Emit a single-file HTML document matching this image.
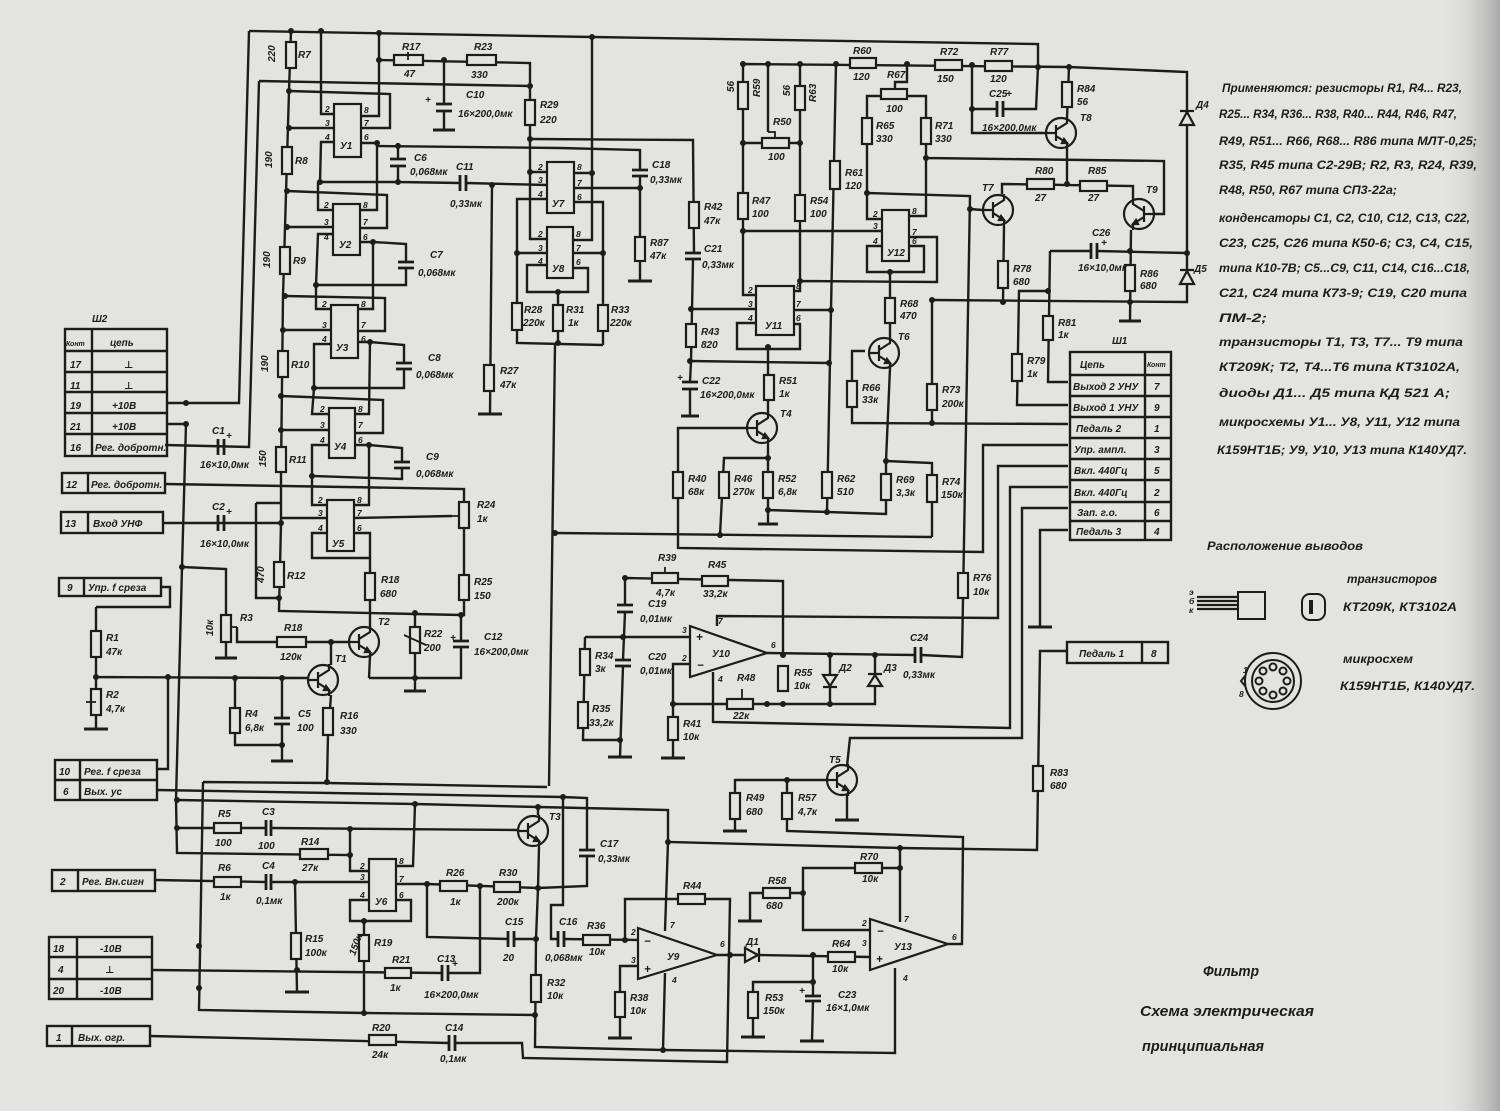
<!DOCTYPE html>
<html><head><meta charset="utf-8">
<style>
html,body{margin:0;padding:0;background:#e3e3e1;}
svg{display:block;}
text{font-family:"Liberation Sans","DejaVu Sans",sans-serif;font-style:italic;font-weight:bold;fill:#1c1c1c;stroke:none;}
.s{font-size:10px;}
.p{font-size:8.5px;}
.t{font-size:11.5px;}
.b{font-size:15px;font-weight:normal;}
</style></head>
<body>
<svg width="1500" height="1111" viewBox="0 0 1500 1111" xmlns="http://www.w3.org/2000/svg">
<defs>
<linearGradient id="edge" x1="0" x2="1" y1="0" y2="0">
<stop offset="0" stop-color="#e3e3e1" stop-opacity="0"/>
<stop offset="1" stop-color="#a9a9a7" stop-opacity="1"/>
</linearGradient>
<g id="tr"><circle cx="0" cy="0" r="15" fill="none"/><path d="M-16,0 L-5,0 M-5,-8 L-5,8 M-5,-3 L6,-10 L6,-16 M-5,3 L6,10 L6,16" fill="none"/><path d="M6,10 L1,10 L3,6 Z" fill="#1c1c1c"/></g>
</defs>
<rect width="1500" height="1111" fill="#e3e3e1"/>
<rect x="1440" y="0" width="60" height="1111" fill="url(#edge)"/>

<g stroke="#1c1c1c" stroke-width="2.4" fill="none" stroke-linejoin="miter">
<path d="M249,31 L592,37 L1038,44 L1038,67 M249,31 L239,403 L167,403 M186,424 L167,424 M259,81 L530,86 M259,81 L249,447 L165,445"/>
<path d="M291,31 L289,91 L283,296 L281,472 L281,523 L279,611 L461,615 M163,523 L281,523 M256,503 L281,503 M256,503 L256,598 L279,598"/>
<path d="M321,31 L321,114 L334,114 M289,128 L334,128 M334,142 L321,142 L320,182 L398,182 L460,183 M466,183 L547,185 M379,33 L379,116 L361,116 M361,128 L390,128 L390,94 L289,91 M361,143 L377,143 L377,210 L360,210 M377,146 L560,148 L640,150 L640,170 M640,176 L640,281 M398,143 L398,159 M398,166 L398,182"/>
<path d="M379,60 L530,63 L530,239 L547,239 M530,172 L547,172 M492,185 L490,414 M444,60 L444,104 M444,111 L444,130"/>
<path d="M530,139 L693,140 L694,253 M693,259 L691,361 L690,382 M690,389 L690,416 M592,37 L592,240 L573,240 M573,173 L592,173 M573,188 L640,188 M573,202 L603,202 L603,345 M573,253 L603,253 M573,268 L588,268 L588,292 L527,292 L527,265 L547,265 M547,199 L517,199 L517,343 L603,345 M517,253 L547,253 M558,292 L558,343 M555,345 L549,786"/>
<path d="M318,182 L318,210 L333,210 M287,227 L333,227 M333,234 L318,234 L316,285 L406,285 L406,268 M406,262 L406,244 L373,242 L360,242 M287,191 L387,195 L387,228 L360,228 M373,242 L373,309 L358,309"/>
<path d="M316,285 L316,309 L331,309 M283,330 L331,330 M331,344 L314,344 L314,388 L404,388 L404,369 M404,363 L404,345 L370,342 L358,342 M285,296 L385,298 L385,331 L358,331 M370,342 L369,414 L355,414"/>
<path d="M314,388 L312,414 L329,414 M281,430 L329,430 M329,445 L312,445 L312,476 L402,479 L402,468 M402,462 L402,448 L369,445 L355,445 M281,396 L383,400 L383,433 L355,433 M369,445 L369,505 L354,505"/>
<path d="M312,476 L312,505 L327,505 M281,518 L327,518 M327,533 L312,533 L312,558 L370,558 M354,533 L370,533 L370,628 M354,518 L452,516 M165,484 L464,489 L464,615 L461,615 L461,641 M461,647 L461,678 L369,678 M370,656 L369,678 M415,613 L415,691"/>
<path d="M182,567 L226,569 L226,658 M237,627 L237,642 L348,642 M331,642 L331,665 M96,677 L308,678 M331,695 L328,735 L327,782 M235,678 L235,745 L282,745 M282,678 L282,718 M282,724 L282,760 M96,607 L96,729 M96,607 L170,607 L170,587 L161,587 M168,677 L168,769 L157,769"/>
<path d="M157,790 L563,797 L587,798 L587,850 M587,856 L587,886 L538,888 M203,782 L327,783 L547,787 M203,782 L199,1010 L364,1013 L535,1015 M186,424 L182,567 L176,800 L177,853 L350,855 L350,871 L369,871"/>
<path d="M177,828 L266,828 M271,828 L518,830 M350,829 L350,855 M177,800 L415,804 L538,807 L668,810 L668,842 L900,848 L1037,850 L1040,651 L1067,651 M415,804 L413,866 L396,866"/>
<path d="M155,880 L266,882 M271,882 L369,882 M295,882 L297,992 M396,884 L427,884 L538,888 M480,886 L480,973 L448,973 M442,973 L152,970 M396,900 L411,900 L411,921 L350,921 L350,900 L369,900 M364,921 L364,1013 M427,884 L427,937 L508,939 M514,939 L536,939"/>
<path d="M538,815 L538,807 M539,847 L538,888 L536,939 L535,1047 L663,1050 L895,1053 L895,968 M563,797 L563,905 L551,905 L551,939 L558,939 M564,939 L638,940"/>
<path d="M150,1036 L449,1043 M455,1043 L522,1043 L523,1058 L727,1062 L730,899 L625,899 L625,940 M717,955 L745,955 M760,955 L870,957 M638,966 L620,966 L620,1038 M665,931 L668,842 M665,973 L663,1050"/>
<path d="M813,955 L813,996 M813,1001 L812,1041 M813,982 L753,982 L753,1037 M750,921 L750,893 L803,893 L803,930 L870,930 M803,893 L803,868 L900,868 L900,922 M900,868 L900,848"/>
<path d="M948,944 L962,944 L963,837 L787,831 L787,780 L827,780 M787,780 L735,780 L735,831 M847,766 L850,738 L1022,738 L1022,508 L1068,508 M847,795 L847,820"/>
<path d="M585,637 L690,637 M690,664 L673,664 L673,758 M673,704 L875,704 L875,655 M830,655 L830,704 M717,626 L717,616 L998,618 L998,466 L1068,466 M713,672 L713,722 L1010,728 L1010,487 L1068,487"/>
<path d="M625,578 L783,581 L783,655 M625,578 L625,605 M625,612 L623,660 M623,666 L620,757 M585,637 L583,740 L620,740 M767,653 L915,655 M921,655 L962,657 L970,196 L867,193"/>
<path d="M747,428 L678,428 L678,548 L983,552 L983,445 L1068,445 M1068,530 L1040,530 L1040,627 M865,351 L852,351 L852,423 L1068,424 M555,533 L932,537 M886,461 L932,463 L932,537"/>
<path d="M720,535 L724,458 L768,458 M768,444 L768,524 M768,510 L886,514 L886,461 M890,368 L886,461 M836,64 L831,310 L827,512 M794,310 L831,310 M690,361 L829,363"/>
<path d="M743,142 L743,295 L756,295 M691,309 L756,309 M756,323 L737,323 L737,349 L800,349 L800,324 L794,324 M800,143 L800,291 L794,291 M800,281 L937,282 L937,237 L909,237 M768,347 L768,413 M743,231 L882,231"/>
<path d="M743,64 L1069,67 L1187,72 L1187,302 L932,300 M743,64 L743,143 L800,143 L800,64 M768,64 L768,132 M907,64 L907,82 L895,82 L895,89 M867,118 L867,96 L926,96 L926,118 M867,144 L867,219 L882,219 M926,144 L926,216 L909,216 M926,158 L1164,161 L1164,214 L1154,214"/>
<path d="M882,246 L867,246 L867,272 L924,272 L924,246 L909,246 M890,272 L890,338 M972,65 L972,133 L1047,133 M972,109 L997,109 M1003,109 L1036,109 L1038,67 M1069,67 L1067,118 M1067,148 L1067,184 M1002,194 L1002,184 L1133,186 L1133,198 M1004,226 L1003,302 M1131,230 L1130,321"/>
<path d="M1050,251 L1091,251 M1097,251 L1187,253 M1050,251 L1048,382 L1068,382 M1048,291 L1019,291 L1017,405 L1068,405 M932,300 L932,423 M970,209 L982,210"/>
</g>

<g stroke="#1c1c1c" stroke-width="2.2" fill="#e3e3e1">
<rect x="286" y="42" width="10" height="26"/><rect x="282" y="147" width="10" height="27"/><rect x="280" y="247" width="10" height="27"/><rect x="278" y="351" width="10" height="26"/><rect x="276" y="447" width="10" height="25"/><rect x="274" y="562" width="10" height="25"/><rect x="365" y="573" width="10" height="27"/><rect x="459" y="575" width="10" height="25"/><rect x="459" y="502" width="10" height="26"/><rect x="410" y="627" width="10" height="26"/><rect x="221" y="615" width="10" height="27"/><rect x="91" y="631" width="10" height="26"/><rect x="91" y="689" width="10" height="26"/><rect x="230" y="708" width="10" height="25"/><rect x="323" y="708" width="10" height="27"/><rect x="291" y="933" width="10" height="26"/><rect x="359" y="935" width="10" height="26"/><rect x="531" y="975" width="10" height="27"/><rect x="484" y="365" width="10" height="26"/><rect x="525" y="100" width="10" height="25"/><rect x="512" y="303" width="10" height="27"/><rect x="553" y="305" width="10" height="26"/><rect x="598" y="305" width="10" height="26"/><rect x="635" y="237" width="10" height="24"/><rect x="689" y="202" width="10" height="26"/><rect x="686" y="324" width="10" height="23"/><rect x="738" y="82" width="10" height="27"/><rect x="795" y="86" width="10" height="24"/><rect x="738" y="193" width="10" height="26"/><rect x="795" y="195" width="10" height="26"/><rect x="830" y="161" width="10" height="28"/><rect x="764" y="375" width="10" height="25"/><rect x="673" y="472" width="10" height="26"/><rect x="719" y="472" width="10" height="26"/><rect x="763" y="472" width="10" height="26"/><rect x="822" y="472" width="10" height="26"/><rect x="862" y="118" width="10" height="26"/><rect x="921" y="118" width="10" height="26"/><rect x="885" y="298" width="10" height="25"/><rect x="847" y="381" width="10" height="26"/><rect x="927" y="384" width="10" height="26"/><rect x="881" y="474" width="10" height="26"/><rect x="927" y="475" width="10" height="27"/><rect x="1062" y="82" width="10" height="25"/><rect x="998" y="261" width="10" height="27"/><rect x="1125" y="265" width="10" height="26"/><rect x="1043" y="316" width="10" height="24"/><rect x="1012" y="354" width="10" height="27"/><rect x="958" y="573" width="10" height="25"/><rect x="1033" y="766" width="10" height="25"/><rect x="580" y="649" width="10" height="26"/><rect x="578" y="702" width="10" height="26"/><rect x="668" y="717" width="10" height="23"/><rect x="778" y="666" width="10" height="25"/><rect x="782" y="793" width="10" height="26"/><rect x="730" y="793" width="10" height="26"/><rect x="615" y="992" width="10" height="25"/><rect x="748" y="992" width="10" height="26"/>
<rect x="394" y="55" width="29" height="10"/><rect x="467" y="55" width="29" height="10"/><rect x="277" y="637" width="29" height="10"/><rect x="214" y="823" width="27" height="10"/><rect x="300" y="849" width="28" height="10"/><rect x="214" y="877" width="27" height="10"/><rect x="440" y="881" width="27" height="10"/><rect x="494" y="882" width="26" height="10"/><rect x="385" y="968" width="26" height="10"/><rect x="369" y="1035" width="27" height="10"/><rect x="583" y="935" width="27" height="10"/><rect x="678" y="894" width="27" height="10"/><rect x="828" y="952" width="27" height="10"/><rect x="763" y="888" width="27" height="10"/><rect x="855" y="863" width="27" height="10"/><rect x="652" y="573" width="26" height="10"/><rect x="702" y="576" width="26" height="10"/><rect x="727" y="699" width="26" height="10"/><rect x="850" y="58" width="26" height="10"/><rect x="935" y="60" width="27" height="10"/><rect x="985" y="61" width="27" height="10"/><rect x="762" y="138" width="27" height="10"/><rect x="881" y="89" width="26" height="10"/><rect x="1027" y="179" width="27" height="10"/><rect x="1080" y="181" width="27" height="10"/>
<rect x="334" y="104" width="27" height="53"/><rect x="333" y="204" width="27" height="51"/><rect x="331" y="305" width="27" height="53"/><rect x="329" y="408" width="26" height="50"/><rect x="327" y="500" width="27" height="51"/><rect x="547" y="162" width="27" height="51"/><rect x="547" y="227" width="26" height="51"/><rect x="369" y="859" width="27" height="52"/><rect x="756" y="286" width="38" height="49"/><rect x="882" y="210" width="27" height="51"/>
<path d="M690,626 L690,677 L767,653 Z"/><path d="M638,928 L638,979 L717,955 Z"/><path d="M870,919 L870,970 L948,944 Z"/>
<use href="#tr" transform="translate(323,680)"/><use href="#tr" transform="translate(364,642)"/><use href="#tr" transform="translate(533,831)"/><use href="#tr" transform="translate(762,428)"/><use href="#tr" transform="translate(842,780)"/><use href="#tr" transform="translate(884,353)"/><use href="#tr" transform="translate(998,210)"/><use href="#tr" transform="translate(1061,133)"/><use href="#tr" transform="translate(1139,214) scale(-1,1)"/>
</g>

<g stroke="#1c1c1c" stroke-width="2.8" fill="none">
<path d="M436,104 L452,104 M436,111 L452,111 M390,159 L406,159 M390,166 L406,166 M398,262 L414,262 M398,268 L414,268 M396,363 L412,363 M396,369 L412,369 M394,462 L410,462 M394,468 L410,468 M453,641 L469,641 M453,647 L469,647 M274,718 L290,718 M274,724 L290,724 M632,170 L648,170 M632,176 L648,176 M685,253 L701,253 M685,259 L701,259 M682,382 L698,382 M682,389 L698,389 M617,605 L633,605 M617,612 L633,612 M615,660 L631,660 M615,666 L631,666 M579,850 L595,850 M579,856 L595,856 M805,996 L821,996 M805,1001 L821,1001"/>
<path d="M218,439 L218,455 M224,439 L224,455 M218,515 L218,531 M224,515 L224,531 M460,175 L460,191 M466,175 L466,191 M266,820 L266,836 M271,820 L271,836 M266,874 L266,890 M271,874 L271,890 M442,965 L442,981 M448,965 L448,981 M508,931 L508,947 M514,931 L514,947 M558,931 L558,947 M564,931 L564,947 M449,1035 L449,1051 M455,1035 L455,1051 M915,647 L915,663 M921,647 L921,663 M997,101 L997,117 M1003,101 L1003,117 M1091,243 L1091,259 M1097,243 L1097,259"/>
</g>
<g stroke="#1c1c1c" stroke-width="3" fill="none">
<path d="M433,130 L455,130 M478,414 L502,414 M215,658 L237,658 M404,691 L426,691 M271,761 L293,761 M84,729 L108,729 M285,992 L309,992 M628,281 L652,281 M681,416 L699,416 M758,524 L778,524 M1119,321 L1141,321 M1028,627 L1052,627 M723,831 L747,831 M835,820 L859,820 M608,757 L632,757 M661,758 L685,758 M608,1038 L632,1038 M741,1037 L765,1037 M800,1041 L824,1041 M738,921 L762,921"/>
</g>
<g stroke="#1c1c1c" stroke-width="2.2" fill="#e3e3e1">
<path d="M745,948 L745,962 L758,955 Z M759,948 L759,962"/>
<path d="M823,675 L837,675 L830,686 Z M823,687 L837,687"/>
<path d="M868,686 L882,686 L875,675 Z M868,674 L882,674"/>
<path d="M1180,125 L1194,125 L1187,112 Z M1180,111 L1194,111"/>
<path d="M1180,284 L1194,284 L1187,271 Z M1180,270 L1194,270"/>
</g>
<g stroke="#1c1c1c" stroke-width="1.8" fill="none">
<path d="M452,516 L459,516 M237,627 L231,627 M96,702 L86,702 M665,567 L665,573 M742,689 L742,699 M768,132 L775,132 L775,138 M426,645 L404,635 M408,60 L408,52"/>
</g>
<g fill="#1c1c1c">
<circle cx="291" cy="31" r="3"/><circle cx="321" cy="31" r="3"/><circle cx="379" cy="33" r="3"/><circle cx="592" cy="37" r="3"/><circle cx="289" cy="91" r="3"/><circle cx="289" cy="128" r="3"/><circle cx="379" cy="60" r="3"/><circle cx="444" cy="60" r="3"/><circle cx="530" cy="86" r="3"/><circle cx="530" cy="139" r="3"/><circle cx="530" cy="172" r="3"/><circle cx="377" cy="143" r="3"/><circle cx="398" cy="146" r="3"/><circle cx="320" cy="182" r="3"/><circle cx="398" cy="182" r="3"/><circle cx="492" cy="185" r="3"/><circle cx="287" cy="191" r="3"/><circle cx="287" cy="227" r="3"/><circle cx="373" cy="242" r="3"/><circle cx="316" cy="285" r="3"/><circle cx="285" cy="296" r="3"/><circle cx="283" cy="330" r="3"/><circle cx="370" cy="342" r="3"/><circle cx="314" cy="388" r="3"/><circle cx="281" cy="396" r="3"/><circle cx="281" cy="430" r="3"/><circle cx="369" cy="445" r="3"/><circle cx="312" cy="476" r="3"/><circle cx="281" cy="523" r="3"/><circle cx="186" cy="403" r="3"/><circle cx="186" cy="424" r="3"/><circle cx="592" cy="173" r="3"/><circle cx="640" cy="188" r="3"/><circle cx="603" cy="253" r="3"/><circle cx="517" cy="253" r="3"/><circle cx="558" cy="292" r="3"/><circle cx="558" cy="343" r="3"/><circle cx="182" cy="567" r="3"/><circle cx="279" cy="598" r="3"/><circle cx="415" cy="613" r="3"/><circle cx="461" cy="615" r="3"/><circle cx="331" cy="642" r="3"/><circle cx="415" cy="678" r="3"/><circle cx="168" cy="677" r="3"/><circle cx="235" cy="678" r="3"/><circle cx="282" cy="678" r="3"/><circle cx="96" cy="677" r="3"/><circle cx="282" cy="745" r="3"/><circle cx="327" cy="782" r="3"/><circle cx="177" cy="800" r="3"/><circle cx="177" cy="828" r="3"/><circle cx="415" cy="804" r="3"/><circle cx="538" cy="807" r="3"/><circle cx="563" cy="797" r="3"/><circle cx="350" cy="829" r="3"/><circle cx="350" cy="855" r="3"/><circle cx="295" cy="882" r="3"/><circle cx="427" cy="884" r="3"/><circle cx="480" cy="886" r="3"/><circle cx="538" cy="888" r="3"/><circle cx="536" cy="939" r="3"/><circle cx="364" cy="921" r="3"/><circle cx="297" cy="970" r="3"/><circle cx="199" cy="946" r="3"/><circle cx="199" cy="988" r="3"/><circle cx="364" cy="1013" r="3"/><circle cx="535" cy="1015" r="3"/><circle cx="663" cy="1050" r="3"/><circle cx="625" cy="940" r="3"/><circle cx="730" cy="955" r="3"/><circle cx="813" cy="955" r="3"/><circle cx="813" cy="982" r="3"/><circle cx="803" cy="893" r="3"/><circle cx="900" cy="868" r="3"/><circle cx="900" cy="848" r="3"/><circle cx="668" cy="842" r="3"/><circle cx="787" cy="780" r="3"/><circle cx="625" cy="578" r="3"/><circle cx="623" cy="637" r="3"/><circle cx="620" cy="740" r="3"/><circle cx="673" cy="704" r="3"/><circle cx="767" cy="704" r="3"/><circle cx="783" cy="704" r="3"/><circle cx="830" cy="704" r="3"/><circle cx="783" cy="655" r="3"/><circle cx="830" cy="655" r="3"/><circle cx="875" cy="655" r="3"/><circle cx="743" cy="64" r="3"/><circle cx="768" cy="64" r="3"/><circle cx="800" cy="64" r="3"/><circle cx="836" cy="64" r="3"/><circle cx="907" cy="64" r="3"/><circle cx="972" cy="65" r="3"/><circle cx="1038" cy="67" r="3"/><circle cx="1069" cy="67" r="3"/><circle cx="743" cy="143" r="3"/><circle cx="800" cy="143" r="3"/><circle cx="743" cy="231" r="3"/><circle cx="800" cy="281" r="3"/><circle cx="691" cy="309" r="3"/><circle cx="831" cy="310" r="3"/><circle cx="690" cy="361" r="3"/><circle cx="829" cy="363" r="3"/><circle cx="768" cy="347" r="3"/><circle cx="867" cy="193" r="3"/><circle cx="926" cy="158" r="3"/><circle cx="890" cy="272" r="3"/><circle cx="970" cy="209" r="3"/><circle cx="972" cy="109" r="3"/><circle cx="1067" cy="184" r="3"/><circle cx="1130" cy="251" r="3"/><circle cx="1187" cy="253" r="3"/><circle cx="1003" cy="302" r="3"/><circle cx="1130" cy="302" r="3"/><circle cx="1048" cy="291" r="3"/><circle cx="932" cy="300" r="3"/><circle cx="932" cy="423" r="3"/><circle cx="768" cy="458" r="3"/><circle cx="886" cy="461" r="3"/><circle cx="768" cy="510" r="3"/><circle cx="827" cy="512" r="3"/><circle cx="720" cy="535" r="3"/><circle cx="555" cy="533" r="3"/>
</g>

<g stroke="#1c1c1c" stroke-width="2" fill="none">
<rect x="1238" y="592" width="27" height="27"/>
<path d="M1197,597 L1238,597 M1197,601 L1238,601 M1197,605 L1238,605 M1197,609 L1238,609" stroke-width="2.2"/>
<rect x="1302" y="594" width="23" height="26" rx="8"/>
<path d="M1311,600 L1311,614" stroke-width="4"/>
<circle cx="1273" cy="681" r="28"/><circle cx="1273" cy="681" r="21"/>
<circle cx="1273" cy="667" r="3.5"/><circle cx="1283" cy="671" r="3.5"/><circle cx="1287" cy="681" r="3.5"/><circle cx="1283" cy="691" r="3.5"/><circle cx="1273" cy="695" r="3.5"/><circle cx="1263" cy="691" r="3.5"/><circle cx="1259" cy="681" r="3.5"/><circle cx="1263" cy="671" r="3.5"/>
<path d="M1245,676 L1241,681 L1245,686"/>
</g>

<g stroke="#1c1c1c" stroke-width="2.4" fill="none">
<rect x="65" y="329" width="102" height="127"/><path d="M65,351 L167,351 M65,372 L167,372 M65,392 L167,392 M65,413 L167,413 M65,434 L167,434 M92,329 L92,456"/>
<rect x="62" y="473" width="103" height="20"/><path d="M88,473 L88,493"/>
<rect x="61" y="512" width="102" height="21"/><path d="M88,512 L88,533"/>
<rect x="59" y="578" width="102" height="18"/><path d="M84,578 L84,596"/>
<rect x="55" y="760" width="102" height="40"/><path d="M55,780 L157,780 M80,760 L80,800"/>
<rect x="52" y="870" width="103" height="21"/><path d="M78,870 L78,891"/>
<rect x="49" y="937" width="103" height="62"/><path d="M49,957 L152,957 M49,979 L152,979 M77,937 L77,999"/>
<rect x="47" y="1026" width="103" height="20"/><path d="M72,1026 L72,1046"/>
<rect x="1070" y="352" width="101" height="188"/><path d="M1145,352 L1145,540 M1070,375 L1171,375 M1070,396 L1171,396 M1070,417 L1171,417 M1070,438 L1171,438 M1070,459 L1171,459 M1070,480 L1171,480 M1070,502 L1171,502 M1070,521 L1171,521"/>
<rect x="1067" y="642" width="101" height="21"/><path d="M1142,642 L1142,663"/>
</g>

<g class="s">
<text x="298" y="58">R7</text><text x="275" y="62" transform="rotate(-90 275 62)">220</text>
<text x="295" y="164">R8</text><text x="272" y="168" transform="rotate(-90 272 168)">190</text>
<text x="293" y="264">R9</text><text x="270" y="268" transform="rotate(-90 270 268)">190</text>
<text x="291" y="368">R10</text><text x="268" y="372" transform="rotate(-90 268 372)">190</text>
<text x="289" y="463">R11</text><text x="266" y="467" transform="rotate(-90 266 467)">150</text>
<text x="287" y="579">R12</text><text x="264" y="583" transform="rotate(-90 264 583)">470</text>
<text x="402" y="50">R17</text><text x="404" y="77">47</text><text x="474" y="50">R23</text><text x="471" y="78">330</text>
<text x="425" y="103">+</text><text x="466" y="98">C10</text><text x="458" y="117">16×200,0мк</text>
<text x="540" y="108">R29</text><text x="540" y="123">220</text>
<text x="414" y="161">C6</text><text x="410" y="175">0,068мк</text>
<text x="456" y="170">C11</text><text x="450" y="207">0,33мк</text>
<text x="430" y="258">C7</text><text x="418" y="276">0,068мк</text>
<text x="428" y="361">C8</text><text x="416" y="378">0,068мк</text>
<text x="426" y="460">C9</text><text x="416" y="477">0,068мк</text>
<text x="500" y="374">R27</text><text x="500" y="388">47к</text>
<text x="524" y="313">R28</text><text x="523" y="326">220к</text><text x="566" y="313">R31</text><text x="568" y="326">1к</text><text x="611" y="313">R33</text><text x="610" y="326">220к</text>
<text x="652" y="168">C18</text><text x="650" y="183">0,33мк</text><text x="650" y="246">R87</text><text x="650" y="259">47к</text>
<text x="704" y="210">R42</text><text x="704" y="224">47к</text><text x="704" y="252">C21</text><text x="702" y="268">0,33мк</text>
<text x="701" y="335">R43</text><text x="701" y="348">820</text><text x="677" y="381">+</text><text x="702" y="384">C22</text><text x="700" y="398">16×200,0мк</text>
<text x="212" y="434">C1</text><text x="226" y="439">+</text><text x="200" y="468">16×10,0мк</text>
<text x="212" y="510">C2</text><text x="226" y="515">+</text><text x="200" y="547">16×10,0мк</text>
<text x="477" y="508">R24</text><text x="477" y="522">1к</text>
<text x="106" y="641">R1</text><text x="106" y="655">47к</text><text x="106" y="698">R2</text><text x="106" y="712">4,7к</text>
<text x="240" y="621">R3</text><text x="213" y="636" transform="rotate(-90 213 636)">10к</text>
<text x="284" y="631">R18</text><text x="280" y="660">120к</text>
<text x="335" y="662">T1</text><text x="378" y="625">T2</text><text x="549" y="820">T3</text>
<text x="245" y="717">R4</text><text x="245" y="731">6,8к</text><text x="298" y="717">C5</text><text x="297" y="731">100</text>
<text x="340" y="719">R16</text><text x="340" y="734">330</text>
<text x="381" y="583">R18</text><text x="380" y="597">680</text><text x="424" y="637">R22</text><text x="424" y="651">200</text>
<text x="450" y="641">+</text><text x="484" y="640">C12</text><text x="474" y="655">16×200,0мк</text>
<text x="474" y="585">R25</text><text x="474" y="599">150</text>
<text x="218" y="817">R5</text><text x="215" y="846">100</text><text x="262" y="815">C3</text><text x="258" y="849">100</text>
<text x="301" y="845">R14</text><text x="302" y="871">27к</text>
<text x="218" y="871">R6</text><text x="220" y="900">1к</text><text x="262" y="869">C4</text><text x="256" y="904">0,1мк</text>
<text x="305" y="942">R15</text><text x="305" y="956">100к</text><text x="374" y="946">R19</text><text x="355" y="956" transform="rotate(-70 355 956)">150к</text>
<text x="392" y="963">R21</text><text x="390" y="991">1к</text><text x="437" y="962">C13</text><text x="452" y="967">+</text><text x="424" y="998">16×200,0мк</text>
<text x="446" y="876">R26</text><text x="450" y="905">1к</text><text x="499" y="876">R30</text><text x="497" y="905">200к</text>
<text x="505" y="925">C15</text><text x="503" y="961">20</text><text x="559" y="925">C16</text><text x="545" y="961">0,068мк</text>
<text x="547" y="986">R32</text><text x="547" y="999">10к</text>
<text x="600" y="847">C17</text><text x="598" y="862">0,33мк</text>
<text x="372" y="1031">R20</text><text x="372" y="1058">24к</text><text x="445" y="1031">C14</text><text x="440" y="1062">0,1мк</text>
<text x="587" y="929">R36</text><text x="589" y="955">10к</text><text x="683" y="889">R44</text>
<text x="630" y="1001">R38</text><text x="630" y="1014">10к</text>
<text x="667" y="960">У9</text><text x="746" y="945">Д1</text><text x="832" y="947">R64</text><text x="832" y="972">10к</text>
<text x="765" y="1001">R53</text><text x="763" y="1014">150к</text><text x="799" y="994">+</text><text x="838" y="998">C23</text><text x="826" y="1011">16×1,0мк</text>
<text x="768" y="884">R58</text><text x="766" y="909">680</text><text x="860" y="860">R70</text><text x="862" y="882">10к</text>
<text x="894" y="950">У13</text>
<text x="829" y="763">T5</text><text x="746" y="801">R49</text><text x="746" y="815">680</text><text x="798" y="801">R57</text><text x="798" y="815">4,7к</text>
<text x="658" y="561">R39</text><text x="656" y="596">4,7к</text><text x="708" y="568">R45</text><text x="703" y="597">33,2к</text>
<text x="648" y="607">C19</text><text x="640" y="622">0,01мк</text><text x="648" y="660">C20</text><text x="640" y="674">0,01мк</text>
<text x="595" y="659">R34</text><text x="595" y="672">3к</text><text x="592" y="712">R35</text><text x="589" y="726">33,2к</text>
<text x="683" y="727">R41</text><text x="683" y="740">10к</text><text x="737" y="681">R48</text><text x="733" y="719">22к</text>
<text x="794" y="676">R55</text><text x="794" y="689">10к</text><text x="712" y="657">У10</text>
<text x="839" y="671">Д2</text><text x="884" y="671">Д3</text><text x="910" y="641">C24</text><text x="903" y="678">0,33мк</text>
<text x="973" y="581">R76</text><text x="973" y="595">10к</text><text x="1050" y="776">R83</text><text x="1050" y="789">680</text>
<text x="760" y="97" transform="rotate(-90 760 97)">R59</text><text x="734" y="92" transform="rotate(-90 734 92)">56</text>
<text x="816" y="102" transform="rotate(-90 816 102)">R63</text><text x="790" y="96" transform="rotate(-90 790 96)">56</text>
<text x="773" y="125">R50</text><text x="768" y="160">100</text>
<text x="752" y="204">R47</text><text x="752" y="217">100</text><text x="810" y="204">R54</text><text x="810" y="217">100</text>
<text x="845" y="176">R61</text><text x="845" y="189">120</text><text x="853" y="54">R60</text><text x="853" y="80">120</text>
<text x="887" y="78">R67</text><text x="886" y="112">100</text><text x="876" y="129">R65</text><text x="876" y="142">330</text>
<text x="935" y="129">R71</text><text x="935" y="142">330</text><text x="940" y="55">R72</text><text x="937" y="82">150</text>
<text x="990" y="55">R77</text><text x="990" y="82">120</text><text x="989" y="97">C25</text><text x="1006" y="97">+</text><text x="982" y="131">16×200,0мк</text>
<text x="1077" y="92">R84</text><text x="1077" y="105">56</text><text x="1080" y="121">T8</text>
<text x="1035" y="174">R80</text><text x="1035" y="201">27</text><text x="1088" y="174">R85</text><text x="1088" y="201">27</text>
<text x="982" y="191">T7</text><text x="1146" y="193">T9</text><text x="1196" y="108">Д4</text><text x="1194" y="272">Д5</text>
<text x="1092" y="236">C26</text><text x="1101" y="246">+</text><text x="1078" y="271">16×10,0мк</text>
<text x="1013" y="272">R78</text><text x="1013" y="285">680</text><text x="1140" y="277">R86</text><text x="1140" y="289">680</text>
<text x="1058" y="326">R81</text><text x="1058" y="338">1к</text><text x="1027" y="364">R79</text><text x="1027" y="377">1к</text>
<text x="779" y="384">R51</text><text x="779" y="397">1к</text><text x="780" y="417">T4</text><text x="898" y="340">T6</text>
<text x="900" y="307">R68</text><text x="900" y="319">470</text><text x="862" y="391">R66</text><text x="862" y="403">33к</text>
<text x="942" y="393">R73</text><text x="942" y="407">200к</text>
<text x="688" y="482">R40</text><text x="688" y="495">68к</text><text x="734" y="482">R46</text><text x="733" y="495">270к</text>
<text x="778" y="482">R52</text><text x="778" y="495">6,8к</text><text x="837" y="482">R62</text><text x="837" y="495">510</text>
<text x="896" y="483">R69</text><text x="896" y="496">3,3к</text><text x="942" y="485">R74</text><text x="941" y="498">150к</text>
<text x="340" y="149">У1</text><text x="339" y="248">У2</text><text x="336" y="351">У3</text><text x="334" y="450">У4</text><text x="332" y="547">У5</text>
<text x="552" y="207">У7</text><text x="552" y="272">У8</text><text x="375" y="905">У6</text><text x="765" y="329">У11</text><text x="887" y="256">У12</text>
</g>
<g class="p">
<text x="325" y="112">2</text><text x="325" y="126">3</text><text x="325" y="140">4</text><text x="364" y="113">8</text><text x="364" y="126">7</text><text x="364" y="140">6</text>
<text x="324" y="208">2</text><text x="324" y="225">3</text><text x="324" y="240">4</text><text x="363" y="208">8</text><text x="363" y="225">7</text><text x="363" y="240">6</text>
<text x="322" y="307">2</text><text x="322" y="328">3</text><text x="322" y="342">4</text><text x="361" y="307">8</text><text x="361" y="328">7</text><text x="361" y="342">6</text>
<text x="320" y="412">2</text><text x="320" y="428">3</text><text x="320" y="443">4</text><text x="358" y="412">8</text><text x="358" y="428">7</text><text x="358" y="443">6</text>
<text x="318" y="503">2</text><text x="318" y="516">3</text><text x="318" y="531">4</text><text x="357" y="503">8</text><text x="357" y="516">7</text><text x="357" y="531">6</text>
<text x="538" y="170">2</text><text x="538" y="183">3</text><text x="538" y="197">4</text><text x="577" y="170">8</text><text x="577" y="186">7</text><text x="577" y="200">6</text>
<text x="538" y="237">2</text><text x="538" y="251">3</text><text x="538" y="264">4</text><text x="576" y="237">8</text><text x="576" y="251">7</text><text x="576" y="265">6</text>
<text x="360" y="869">2</text><text x="360" y="880">3</text><text x="360" y="898">4</text><text x="399" y="864">8</text><text x="399" y="882">7</text><text x="399" y="898">6</text>
<text x="748" y="293">2</text><text x="748" y="307">3</text><text x="748" y="321">4</text><text x="796" y="289">8</text><text x="796" y="307">7</text><text x="796" y="321">6</text>
<text x="873" y="217">2</text><text x="873" y="229">3</text><text x="873" y="244">4</text><text x="912" y="214">8</text><text x="912" y="235">7</text><text x="912" y="244">6</text>
<text x="682" y="633">3</text><text x="682" y="661">2</text><text x="718" y="624">7</text><text x="718" y="682">4</text><text x="771" y="648">6</text>
<text x="631" y="935">2</text><text x="631" y="963">3</text><text x="670" y="928">7</text><text x="672" y="983">4</text><text x="720" y="947">6</text>
<text x="862" y="926">2</text><text x="862" y="946">3</text><text x="904" y="922">7</text><text x="903" y="981">4</text><text x="952" y="940">6</text>
</g>
<g class="t">
<text x="696" y="641">+</text><text x="697" y="669">−</text><text x="644" y="945">−</text><text x="644" y="973">+</text><text x="877" y="935">−</text><text x="876" y="963">+</text>
</g>
<g class="s">
<text x="92" y="322">Ш2</text>
<text x="66" y="346" style="font-size:7px">Конт</text><text x="110" y="346">цепь</text>
<text x="70" y="368">17</text><text x="124" y="368">⊥</text>
<text x="70" y="389">11</text><text x="124" y="389">⊥</text>
<text x="70" y="409">19</text><text x="112" y="409">+10В</text>
<text x="70" y="430">21</text><text x="112" y="430">+10В</text>
<text x="70" y="451">16</text><text x="95" y="451">Рег. добротн.</text>
<text x="66" y="488">12</text><text x="91" y="488">Рег. добротн.</text>
<text x="65" y="527">13</text><text x="93" y="527">Вход УНФ</text>
<text x="67" y="591">9</text><text x="88" y="591">Упр. f среза</text>
<text x="59" y="775">10</text><text x="84" y="775">Рег. f среза</text>
<text x="63" y="795">6</text><text x="84" y="795">Вых. ус</text>
<text x="60" y="885">2</text><text x="82" y="885">Рег. Вн.сигн</text>
<text x="53" y="952">18</text><text x="100" y="952">-10В</text>
<text x="58" y="973">4</text><text x="105" y="973">⊥</text>
<text x="53" y="994">20</text><text x="100" y="994">-10В</text>
<text x="56" y="1041">1</text><text x="78" y="1041">Вых. огр.</text>
<text x="1112" y="344">Ш1</text>
<text x="1080" y="368">Цепь</text><text x="1147" y="367" style="font-size:7px">Конт</text>
<text x="1073" y="390">Выход 2 УНУ</text><text x="1154" y="390">7</text>
<text x="1073" y="411">Выход 1 УНУ</text><text x="1154" y="411">9</text>
<text x="1076" y="432">Педаль 2</text><text x="1154" y="432">1</text>
<text x="1074" y="453">Упр. ампл.</text><text x="1154" y="453">3</text>
<text x="1074" y="474">Вкл. 440Гц</text><text x="1154" y="474">5</text>
<text x="1074" y="496">Вкл. 440Гц</text><text x="1154" y="496">2</text>
<text x="1077" y="516">Зап. г.о.</text><text x="1154" y="516">6</text>
<text x="1076" y="535">Педаль 3</text><text x="1154" y="535">4</text>
<text x="1079" y="657">Педаль 1</text><text x="1151" y="657">8</text>
<text x="1189" y="595" class="p">э</text><text x="1189" y="604" class="p">б</text><text x="1189" y="613" class="p">к</text>
<text x="1243" y="673" class="p">1</text><text x="1239" y="697" class="p">8</text>
</g>
<g class="t">
<text x="1222" y="92" textLength="240" lengthAdjust="spacingAndGlyphs">Применяются: резисторы R1, R4... R23,</text>
<text x="1219" y="118" textLength="238" lengthAdjust="spacingAndGlyphs">R25... R34, R36... R38, R40... R44, R46, R47,</text>
<text x="1219" y="145" textLength="258" lengthAdjust="spacingAndGlyphs">R49, R51... R66, R68... R86 типа МЛТ-0,25;</text>
<text x="1219" y="169" textLength="258" lengthAdjust="spacingAndGlyphs">R35, R45 типа С2-29В; R2, R3, R24, R39,</text>
<text x="1219" y="194" textLength="178" lengthAdjust="spacingAndGlyphs">R48, R50, R67 типа СП3-22а;</text>
<text x="1219" y="222" textLength="251" lengthAdjust="spacingAndGlyphs">конденсаторы С1, С2, С10, С12, С13, С22,</text>
<text x="1219" y="247" textLength="254" lengthAdjust="spacingAndGlyphs">С23, С25, С26 типа К50-6; С3, С4, С15,</text>
<text x="1219" y="272" textLength="251" lengthAdjust="spacingAndGlyphs">типа К10-7В; С5...С9, С11, С14, С16...С18,</text>
<text x="1219" y="297" textLength="248" lengthAdjust="spacingAndGlyphs">С21, С24 типа К73-9; С19, С20 типа</text>
<text x="1219" y="322" textLength="48" lengthAdjust="spacingAndGlyphs">ПМ-2;</text>
<text x="1219" y="346" textLength="244" lengthAdjust="spacingAndGlyphs">транзисторы Т1, Т3, Т7... Т9 типа</text>
<text x="1219" y="371" textLength="241" lengthAdjust="spacingAndGlyphs">КТ209К; Т2, Т4...Т6 типа КТ3102А,</text>
<text x="1219" y="397" textLength="231" lengthAdjust="spacingAndGlyphs">диоды Д1... Д5 типа КД 521 А;</text>
<text x="1219" y="426" textLength="241" lengthAdjust="spacingAndGlyphs">микросхемы У1... У8, У11, У12 типа</text>
<text x="1217" y="454" textLength="250" lengthAdjust="spacingAndGlyphs">К159НТ1Б; У9, У10, У13 типа К140УД7.</text>
<text x="1207" y="550" textLength="156" lengthAdjust="spacingAndGlyphs">Расположение выводов</text>
<text x="1347" y="583" textLength="90" lengthAdjust="spacingAndGlyphs">транзисторов</text>
<text x="1343" y="611" textLength="114" lengthAdjust="spacingAndGlyphs">КТ209К, КТ3102А</text>
<text x="1343" y="663" textLength="70" lengthAdjust="spacingAndGlyphs">микросхем</text>
<text x="1340" y="690" textLength="135" lengthAdjust="spacingAndGlyphs">К159НТ1Б, К140УД7.</text>
</g>
<g class="b">
<text x="1203" y="976" textLength="56" lengthAdjust="spacingAndGlyphs">Фильтр</text>
<text x="1140" y="1016" textLength="174" lengthAdjust="spacingAndGlyphs">Схема   электрическая</text>
<text x="1142" y="1051" textLength="122" lengthAdjust="spacingAndGlyphs">принципиальная</text>
</g>
</svg>
</body></html>
